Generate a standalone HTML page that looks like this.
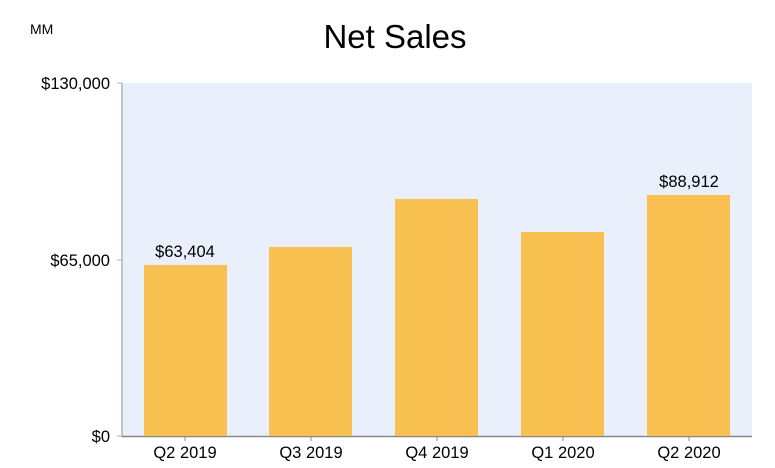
<!DOCTYPE html>
<html><head><style>body{margin:0;background:#fff}</style></head><body>
<svg width="775" height="463" xmlns="http://www.w3.org/2000/svg" font-family="Liberation Sans, sans-serif">
<rect x="123" y="83" width="629" height="353" fill="#e9f0fb"/>
<text x="395" y="48" font-size="33" text-anchor="middle" fill="#000">Net Sales</text>
<text x="30" y="34" font-size="14" fill="#000">MM</text>
<line x1="122" y1="83" x2="122" y2="437" stroke="#b0b0b0" stroke-width="1.5"/>
<line x1="122" y1="436.5" x2="752" y2="436.5" stroke="#888" stroke-width="1.5"/>
<g stroke="#b0b0b0"><line x1="117" y1="83" x2="122" y2="83"/><line x1="117" y1="260" x2="122" y2="260"/><line x1="117" y1="436" x2="122" y2="436"/></g>
<g font-size="16.5" text-anchor="end" fill="#000">
<text x="110" y="89">$130,000</text><text x="110" y="266">$65,000</text><text x="110" y="442">$0</text></g>
<g fill="#f8c051">
<rect x="144" y="265" width="83" height="171"/>
<rect x="269" y="247" width="83" height="189"/>
<rect x="395" y="199" width="83" height="237"/>
<rect x="521" y="232" width="83" height="204"/>
<rect x="647" y="195" width="83" height="241"/>
</g>
<g stroke="#888"><line x1="185" y1="437" x2="185" y2="441"/><line x1="311" y1="437" x2="311" y2="441"/><line x1="437" y1="437" x2="437" y2="441"/><line x1="563" y1="437" x2="563" y2="441"/><line x1="689" y1="437" x2="689" y2="441"/></g>
<g font-size="16.5" text-anchor="middle" fill="#000">
<text x="185" y="458">Q2 2019</text><text x="311" y="458">Q3 2019</text><text x="437" y="458">Q4 2019</text><text x="563" y="458">Q1 2020</text><text x="689" y="458">Q2 2020</text>
<text x="185" y="257">$63,404</text><text x="689" y="187">$88,912</text></g>
</svg>
</body></html>
